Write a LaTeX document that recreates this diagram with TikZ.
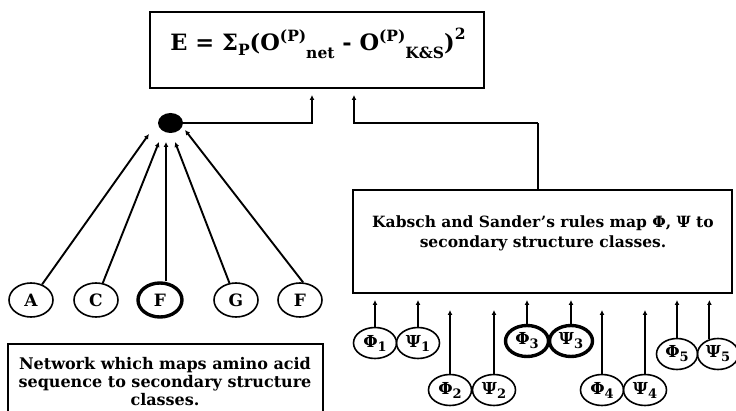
\documentclass[tikz,border=0pt]{standalone}
\usepackage{fontspec}
\setmainfont{DejaVu Serif}
\usetikzlibrary{shapes.geometric,arrows.meta,calc}
\newcommand{\scr}[1]{{\fontsize{15.5}{15.5}\selectfont #1}}
\newcommand{\idx}[1]{\raisebox{-4pt}{\fontsize{13}{13}\selectfont #1}}
\begin{document}
\begin{tikzpicture}[x=1pt,y=-1pt,
  boxframe/.style={draw,line width=1.6pt,rectangle,inner sep=0pt},
  conn/.style={line width=1.9pt},
  arr/.style={line width=1.9pt,-{Latex[length=5pt,width=5pt]}},
  letter/.style={draw,ellipse,line width=1.6pt,minimum width=44pt,minimum height=34pt,inner sep=0pt,font=\fontsize{17}{17}\selectfont\bfseries},
  angle/.style={draw,ellipse,line width=1.6pt,minimum width=43pt,minimum height=31pt,inner sep=0pt,font=\fontsize{16.5}{16.5}\selectfont\bfseries},
  heavy/.style={line width=3.4pt},
  body/.style={align=center,inner sep=0pt}
]
\useasboundingbox (0,0) rectangle (736,411);
% top box
\node[boxframe,minimum width=334pt,minimum height=76pt] (top) at (317,50) {};
\node[inner sep=0pt,font=\bfseries\fontsize{22.5}{22.5}\selectfont] (eq) at (318,43)
 {E = Σ\raisebox{-5pt}{\scr{P}}(O\raisebox{9pt}{\scr{(P)}}\raisebox{-8pt}{\scr{net}} - O\raisebox{9pt}{\scr{(P)}}\raisebox{-8pt}{\scr{K\&S}})\raisebox{11pt}{\scr{2}}};
% ball
\node[ellipse,fill=black,minimum width=25pt,minimum height=20pt,inner sep=0pt] (ball) at (170.5,123) {};
% letters
\node[letter] (A) at (31,300) {A};
\node[letter] (C) at (96,300) {C};
\node[letter,heavy] (F) at (160,300) {F};
\node[letter] (G) at (236,300) {G};
\node[letter] (F2) at (300,300) {F};
\coordinate (tA) at (149,134);
\coordinate (tC) at (159,142);
\coordinate (tF) at (166,142);
\coordinate (tG) at (175,142);
\coordinate (tF2) at (185,130);
\draw[arr] (A) -- (tA);
\draw[arr] (C) -- (tC);
\draw[arr] (tF |- F.north) -- (tF);
\draw[arr] (G) -- (tG);
\draw[arr] (F2.80) -- (tF2);
% ball to top box
\coordinate (e1) at (312,95);
\draw[arr] (ball.east) -| (e1);
% network box
\node[boxframe,minimum width=315pt,minimum height=80pt] (net) at (165.5,384) {};
\node[body,font=\fontsize{16}{18}\selectfont\bfseries] (nettext) at (165,382) {Network which maps amino acid\\sequence to secondary structure\\classes.};
% K&S box
\node[boxframe,minimum width=379pt,minimum height=103pt] (ks) at (542.5,241.5) {};
\node[body,font=\fontsize{15.5}{20}\selectfont\bfseries] (kstext) at (543,233) {Kabsch and Sander's rules map Φ, Ψ to\\secondary structure classes.};
\coordinate (kv) at (538,123);
\coordinate (e2) at (354,95);
\draw[conn] (ks.north -| kv) -- (kv);
\draw[arr] (kv) -| (e2);
% angle circles
\node[angle] (phi1) at (375,343) {Φ\idx{1}};
\node[angle] (psi1) at (418,343) {Ψ\idx{1}};
\node[angle] (phi2) at (450,390) {Φ\idx{2}};
\node[angle] (psi2) at (494,390) {Ψ\idx{2}};
\node[angle,heavy] (phi3) at (527,341) {Φ\idx{3}};
\node[angle,heavy] (psi3) at (571,341) {Ψ\idx{3}};
\node[angle] (phi4) at (602,390) {Φ\idx{4}};
\node[angle] (psi4) at (645,390) {Ψ\idx{4}};
\node[angle,minimum width=41pt] (phi5) at (677,354) {Φ\idx{5}};
\node[angle,minimum width=41pt] (psi5) at (718,354) {Ψ\idx{5}};
\coordinate (hi) at (0,300);
\coordinate (lo) at (0,310);
\draw[arr] (phi1.north) -- (phi1.north |- hi);
\draw[arr] (psi1.north) -- (psi1.north |- hi);
\draw[arr] (phi2.north) -- (phi2.north |- lo);
\draw[arr] (psi2.north) -- (psi2.north |- lo);
\draw[arr] (phi3.north) -- (phi3.north |- hi);
\draw[arr] (psi3.north) -- (psi3.north |- hi);
\draw[arr] (phi4.north) -- (phi4.north |- lo);
\draw[arr] (psi4.north) -- (psi4.north |- lo);
\draw[arr] (phi5.north) -- (phi5.north |- hi);
\draw[arr] (psi5.120) -- (psi5.120 |- hi);
\end{tikzpicture}
\end{document}
